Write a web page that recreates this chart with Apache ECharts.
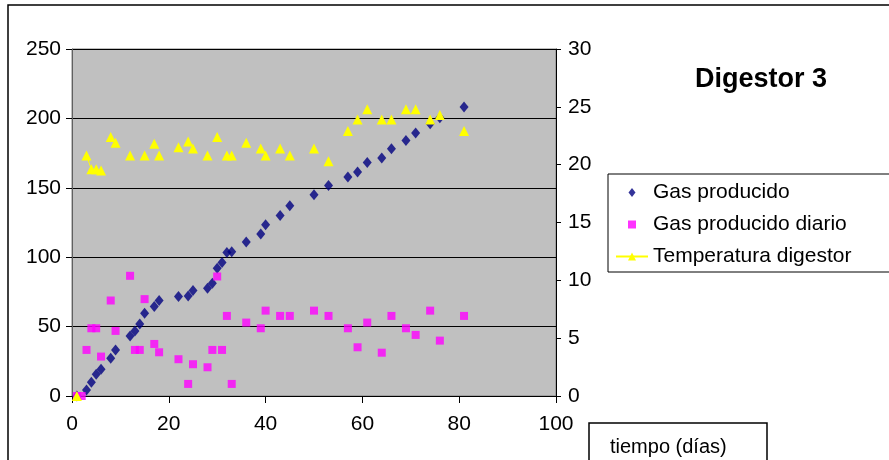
<!DOCTYPE html>
<html>
<head>
<meta charset="utf-8">
<script src="https://cdn.jsdelivr.net/npm/echarts@6/dist/echarts.min.js"></script>
<style>html,body{margin:0;padding:0;background:#fff;}#c{width:889px;height:460px;}</style>
</head>
<body>
<div id="c"></div>
<script>
// Data
var titleText = 'Digestor 3';
var xAxisTitle = 'tiempo (días)';
var seriesNames = ['Gas producido', 'Gas producido diario', 'Temperatura digestor'];

var gasDays = [1, 3, 4, 5, 6, 8, 9, 12, 13, 14, 15, 17, 18, 22, 24, 25, 28, 29, 30, 31, 32, 33, 36, 39, 40, 43, 45, 50, 53, 57, 59, 61, 64, 66, 69, 71, 74, 76, 81];
var gasAcum = [0, 4.3, 9.9, 15.7, 19.3, 27.2, 33.2, 43.3, 46.9, 51.9, 59.7, 64.4, 68.8, 71.6, 72.0, 76.0, 77.7, 81.3, 92.1, 96.2, 103.4, 103.9, 110.9, 116.7, 123.4, 130.1, 137.1, 145.0, 151.7, 157.8, 161.4, 168.3, 171.5, 178.2, 184.0, 189.5, 196.2, 200.4, 208.3];

var diaDays = [1, 2, 3, 4, 5, 6, 8, 9, 12, 13, 14, 15, 17, 18, 22, 24, 25, 28, 29, 30, 31, 32, 33, 36, 39, 40, 43, 45, 50, 53, 57, 59, 61, 64, 66, 69, 71, 74, 76, 81];
var gasDiario = [0, 0, 33.2, 48.8, 48.8, 28.4, 68.8, 46.9, 86.6, 33.2, 33.2, 69.8, 37.5, 31.5, 26.5, 8.7, 22.9, 20.7, 33.2, 86.1, 33.2, 57.7, 8.7, 52.9, 48.8, 61.5, 57.7, 57.7, 61.5, 57.7, 48.8, 35.1, 52.9, 31.2, 57.7, 48.8, 44.0, 61.5, 39.9, 57.7];

var tempDays = [1, 3, 4, 5, 6, 8, 9, 12, 15, 17, 18, 22, 24, 25, 28, 30, 32, 33, 36, 39, 40, 43, 45, 50, 53, 57, 59, 61, 64, 66, 69, 71, 74, 76, 81];
var temperatura = [0, 20.8, 19.6, 19.6, 19.5, 22.4, 21.9, 20.8, 20.8, 21.8, 20.8, 21.5, 22.0, 21.4, 20.8, 22.4, 20.8, 20.8, 21.9, 21.4, 20.8, 21.4, 20.8, 21.4, 20.3, 22.9, 23.9, 24.8, 23.9, 23.9, 24.8, 24.8, 23.9, 24.3, 22.9];
var tempLinkedFrom = [3]; // the only day whose point is joined by a line to the next one

var xTicks = [0, 20, 40, 60, 80, 100];
var leftTicks = [0, 50, 100, 150, 200, 250];
var rightTicks = [0, 5, 10, 15, 20, 25, 30];

function pairs(xs, ys) { return xs.map(function (x, i) { return [x, ys[i]]; }); }
var tempLine = [];
tempDays.forEach(function (d, i) {
  tempLine.push([d, temperatura[i]]);
  if (tempLinkedFrom.indexOf(d) < 0 && i < tempDays.length - 1) tempLine.push([d, '-']);
});

// legend icons: small marker centred in the 32-wide legend key box
var ICON_DIAMOND = 'path://M0,0L0,0M32,10L32,10M16,0.5L19.5,5L16,9.5L12.5,5Z';
var ICON_SQUARE = 'path://M0,0L0,0M32,10L32,10M12,1L20,1L20,9L12,9Z';

var FONT = 'Liberation Sans, Arial, sans-serif';
var chart = echarts.init(document.getElementById('c'), null, { renderer: 'canvas' });
chart.setOption({
  animation: false,
  backgroundColor: '#ffffff',
  textStyle: { fontFamily: FONT },
  title: {
    text: titleText, left: 690, top: 61,
    textStyle: { fontFamily: FONT, fontSize: 27, fontWeight: 'bold', color: '#000' }
  },
  legend: {
    orient: 'vertical', left: 608, top: 174,
    padding: [8, 60, 5, 7],
    itemWidth: 32, itemHeight: 10, itemGap: 11,
    backgroundColor: '#fff', borderColor: '#000', borderWidth: 1,
    textStyle: { fontFamily: FONT, fontSize: 21, color: '#000' },
    data: [
      { name: seriesNames[0], icon: ICON_DIAMOND },
      { name: seriesNames[1], icon: ICON_SQUARE },
      { name: seriesNames[2] }
    ]
  },
  grid: {
    left: 72, right: 333, top: 49, bottom: 64,
    show: true, backgroundColor: '#c0c0c0', borderColor: '#808080', borderWidth: 1
  },
  xAxis: {
    type: 'value', min: xTicks[0], max: xTicks[xTicks.length - 1], interval: 20,
    axisLine: { show: true, onZero: false, lineStyle: { color: '#000', width: 1 } },
    axisTick: { show: true, length: 7, lineStyle: { color: '#000' } },
    axisLabel: { fontSize: 21, color: '#000', margin: 18, fontFamily: FONT },
    splitLine: { show: false }
  },
  yAxis: [{
    type: 'value', min: leftTicks[0], max: leftTicks[leftTicks.length - 1], interval: 50,
    axisLine: { show: true, lineStyle: { color: '#606060', width: 1 } },
    axisTick: { show: true, length: 6, lineStyle: { color: '#000' } },
    axisLabel: { fontSize: 21, color: '#000', margin: 11, fontFamily: FONT },
    splitLine: { show: true, lineStyle: { color: '#000', width: 1 } }
  }, {
    type: 'value', position: 'right', min: rightTicks[0], max: rightTicks[rightTicks.length - 1], interval: 5,
    axisLine: { show: true, lineStyle: { color: '#000', width: 1 } },
    axisTick: { show: true, length: 5, lineStyle: { color: '#000' } },
    axisLabel: { fontSize: 21, color: '#000', margin: 12, fontFamily: FONT },
    splitLine: { show: false }
  }],
  graphic: [
    { type: 'rect', z: -10, silent: true, shape: { x: 8, y: 5, width: 900, height: 480 },
      style: { fill: null, stroke: '#000', lineWidth: 1.5 } },
    { type: 'rect', z: 10, silent: true, shape: { x: 589, y: 423, width: 178, height: 60 },
      style: { fill: '#fff', stroke: '#000', lineWidth: 1.5 } },
    { type: 'text', z: 11, silent: true, left: 610, top: 437,
      style: { text: xAxisTitle, font: '20px ' + FONT, fill: '#000' } }
  ],
  series: [{
    name: seriesNames[0], type: 'scatter', yAxisIndex: 0,
    symbol: 'diamond', symbolSize: [9, 11],
    itemStyle: { color: '#000080' },
    data: pairs(gasDays, gasAcum)
  }, {
    name: seriesNames[1], type: 'scatter', yAxisIndex: 0,
    symbol: 'rect', symbolSize: 8,
    itemStyle: { color: '#ff00ff' },
    data: pairs(diaDays, gasDiario)
  }, {
    name: seriesNames[2], type: 'line', yAxisIndex: 1,
    symbol: 'triangle', symbolSize: 10, showAllSymbol: true, connectNulls: false,
    lineStyle: { color: '#ffff00', width: 1 },
    itemStyle: { color: '#ffff00' },
    data: tempLine
  }]
});
</script>
</body>
</html>
